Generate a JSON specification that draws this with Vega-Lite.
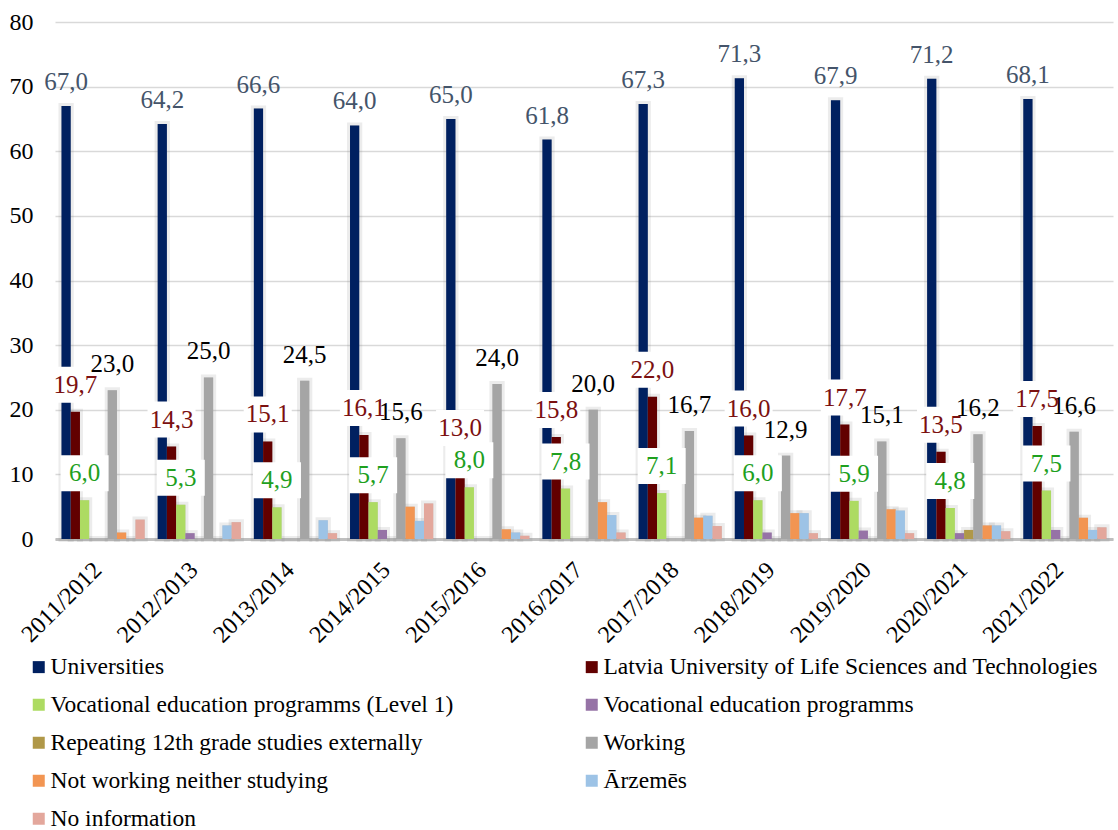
{
  "$schema": "https://vega.github.io/schema/vega-lite/v6.json",
  "width": 1058,
  "height": 517,
  "autosize": {"type": "none"},
  "padding": {"left": 55, "top": 22, "right": 5, "bottom": 291},
  "background": "white",
  "config": {
    "locale": {"number": {"decimal": ",", "thousands": " ", "grouping": [3], "currency": ["", ""]}},
    "view": {"stroke": null},
    "font": "Times New Roman, Liberation Serif, serif"
  },
  "data": {"values": [
    {"year": "2011/2012", "cat": "Universities", "value": 67.0},
    {"year": "2011/2012", "cat": "Latvia University of Life Sciences and Technologies", "value": 19.7},
    {"year": "2011/2012", "cat": "Vocational education programms (Level 1)", "value": 6.0},
    {"year": "2011/2012", "cat": "Vocational education programms", "value": 0},
    {"year": "2011/2012", "cat": "Repeating 12th grade studies externally", "value": 0},
    {"year": "2011/2012", "cat": "Working", "value": 23.0},
    {"year": "2011/2012", "cat": "Not working neither studying", "value": 1.0},
    {"year": "2011/2012", "cat": "Ārzemēs", "value": 0},
    {"year": "2011/2012", "cat": "No information", "value": 3.0},
    {"year": "2012/2013", "cat": "Universities", "value": 64.2},
    {"year": "2012/2013", "cat": "Latvia University of Life Sciences and Technologies", "value": 14.3},
    {"year": "2012/2013", "cat": "Vocational education programms (Level 1)", "value": 5.3},
    {"year": "2012/2013", "cat": "Vocational education programms", "value": 0.9},
    {"year": "2012/2013", "cat": "Repeating 12th grade studies externally", "value": 0},
    {"year": "2012/2013", "cat": "Working", "value": 25.0},
    {"year": "2012/2013", "cat": "Not working neither studying", "value": 0},
    {"year": "2012/2013", "cat": "Ārzemēs", "value": 2.1},
    {"year": "2012/2013", "cat": "No information", "value": 2.6},
    {"year": "2013/2014", "cat": "Universities", "value": 66.6},
    {"year": "2013/2014", "cat": "Latvia University of Life Sciences and Technologies", "value": 15.1},
    {"year": "2013/2014", "cat": "Vocational education programms (Level 1)", "value": 4.9},
    {"year": "2013/2014", "cat": "Vocational education programms", "value": 0},
    {"year": "2013/2014", "cat": "Repeating 12th grade studies externally", "value": 0},
    {"year": "2013/2014", "cat": "Working", "value": 24.5},
    {"year": "2013/2014", "cat": "Not working neither studying", "value": 0},
    {"year": "2013/2014", "cat": "Ārzemēs", "value": 2.9},
    {"year": "2013/2014", "cat": "No information", "value": 0.9},
    {"year": "2014/2015", "cat": "Universities", "value": 64.0},
    {"year": "2014/2015", "cat": "Latvia University of Life Sciences and Technologies", "value": 16.1},
    {"year": "2014/2015", "cat": "Vocational education programms (Level 1)", "value": 5.7},
    {"year": "2014/2015", "cat": "Vocational education programms", "value": 1.4},
    {"year": "2014/2015", "cat": "Repeating 12th grade studies externally", "value": 0},
    {"year": "2014/2015", "cat": "Working", "value": 15.6},
    {"year": "2014/2015", "cat": "Not working neither studying", "value": 5.0},
    {"year": "2014/2015", "cat": "Ārzemēs", "value": 2.8},
    {"year": "2014/2015", "cat": "No information", "value": 5.5},
    {"year": "2015/2016", "cat": "Universities", "value": 65.0},
    {"year": "2015/2016", "cat": "Latvia University of Life Sciences and Technologies", "value": 13.0},
    {"year": "2015/2016", "cat": "Vocational education programms (Level 1)", "value": 8.0},
    {"year": "2015/2016", "cat": "Vocational education programms", "value": 0},
    {"year": "2015/2016", "cat": "Repeating 12th grade studies externally", "value": 0},
    {"year": "2015/2016", "cat": "Working", "value": 24.0},
    {"year": "2015/2016", "cat": "Not working neither studying", "value": 1.5},
    {"year": "2015/2016", "cat": "Ārzemēs", "value": 1.0},
    {"year": "2015/2016", "cat": "No information", "value": 0.5},
    {"year": "2016/2017", "cat": "Universities", "value": 61.8},
    {"year": "2016/2017", "cat": "Latvia University of Life Sciences and Technologies", "value": 15.8},
    {"year": "2016/2017", "cat": "Vocational education programms (Level 1)", "value": 7.8},
    {"year": "2016/2017", "cat": "Vocational education programms", "value": 0},
    {"year": "2016/2017", "cat": "Repeating 12th grade studies externally", "value": 0},
    {"year": "2016/2017", "cat": "Working", "value": 20.0},
    {"year": "2016/2017", "cat": "Not working neither studying", "value": 5.7},
    {"year": "2016/2017", "cat": "Ārzemēs", "value": 3.7},
    {"year": "2016/2017", "cat": "No information", "value": 1.0},
    {"year": "2017/2018", "cat": "Universities", "value": 67.3},
    {"year": "2017/2018", "cat": "Latvia University of Life Sciences and Technologies", "value": 22.0},
    {"year": "2017/2018", "cat": "Vocational education programms (Level 1)", "value": 7.1},
    {"year": "2017/2018", "cat": "Vocational education programms", "value": 0},
    {"year": "2017/2018", "cat": "Repeating 12th grade studies externally", "value": 0},
    {"year": "2017/2018", "cat": "Working", "value": 16.7},
    {"year": "2017/2018", "cat": "Not working neither studying", "value": 3.3},
    {"year": "2017/2018", "cat": "Ārzemēs", "value": 3.6},
    {"year": "2017/2018", "cat": "No information", "value": 2.0},
    {"year": "2018/2019", "cat": "Universities", "value": 71.3},
    {"year": "2018/2019", "cat": "Latvia University of Life Sciences and Technologies", "value": 16.0},
    {"year": "2018/2019", "cat": "Vocational education programms (Level 1)", "value": 6.0},
    {"year": "2018/2019", "cat": "Vocational education programms", "value": 1.0},
    {"year": "2018/2019", "cat": "Repeating 12th grade studies externally", "value": 0},
    {"year": "2018/2019", "cat": "Working", "value": 12.9},
    {"year": "2018/2019", "cat": "Not working neither studying", "value": 4.0},
    {"year": "2018/2019", "cat": "Ārzemēs", "value": 4.0},
    {"year": "2018/2019", "cat": "No information", "value": 0.9},
    {"year": "2019/2020", "cat": "Universities", "value": 67.9},
    {"year": "2019/2020", "cat": "Latvia University of Life Sciences and Technologies", "value": 17.7},
    {"year": "2019/2020", "cat": "Vocational education programms (Level 1)", "value": 5.9},
    {"year": "2019/2020", "cat": "Vocational education programms", "value": 1.3},
    {"year": "2019/2020", "cat": "Repeating 12th grade studies externally", "value": 0},
    {"year": "2019/2020", "cat": "Working", "value": 15.1},
    {"year": "2019/2020", "cat": "Not working neither studying", "value": 4.6},
    {"year": "2019/2020", "cat": "Ārzemēs", "value": 4.4},
    {"year": "2019/2020", "cat": "No information", "value": 0.9},
    {"year": "2020/2021", "cat": "Universities", "value": 71.2},
    {"year": "2020/2021", "cat": "Latvia University of Life Sciences and Technologies", "value": 13.5},
    {"year": "2020/2021", "cat": "Vocational education programms (Level 1)", "value": 4.8},
    {"year": "2020/2021", "cat": "Vocational education programms", "value": 0.9},
    {"year": "2020/2021", "cat": "Repeating 12th grade studies externally", "value": 1.4},
    {"year": "2020/2021", "cat": "Working", "value": 16.2},
    {"year": "2020/2021", "cat": "Not working neither studying", "value": 2.1},
    {"year": "2020/2021", "cat": "Ārzemēs", "value": 2.1},
    {"year": "2020/2021", "cat": "No information", "value": 1.2},
    {"year": "2021/2022", "cat": "Universities", "value": 68.1},
    {"year": "2021/2022", "cat": "Latvia University of Life Sciences and Technologies", "value": 17.5},
    {"year": "2021/2022", "cat": "Vocational education programms (Level 1)", "value": 7.5},
    {"year": "2021/2022", "cat": "Vocational education programms", "value": 1.4},
    {"year": "2021/2022", "cat": "Repeating 12th grade studies externally", "value": 0},
    {"year": "2021/2022", "cat": "Working", "value": 16.6},
    {"year": "2021/2022", "cat": "Not working neither studying", "value": 3.3},
    {"year": "2021/2022", "cat": "Ārzemēs", "value": 1.4},
    {"year": "2021/2022", "cat": "No information", "value": 1.8}
  ]},
  "encoding": {
    "x": {
      "field": "year", "type": "nominal", "sort": null, "title": null,
      "scale": {"paddingInner": 0, "paddingOuter": 0},
      "axis": {"labelAngle": -45, "labelAlign": "right", "labelBaseline": "middle", "labelFontSize": 24, "labelFont": "Times New Roman, Liberation Serif, serif", "labelColor": "black", "ticks": false, "domainColor": "#BFBFBF", "domainWidth": 3, "labelPadding": 27, "labelOffset": -5}
    },
    "xOffset": {
      "field": "cat", "type": "nominal", "sort": null,
      "scale": {"domain": ["Universities", "Latvia University of Life Sciences and Technologies", "Vocational education programms (Level 1)", "Vocational education programms", "Repeating 12th grade studies externally", "Working", "Not working neither studying", "Ārzemēs", "No information"], "paddingInner": 0, "paddingOuter": 0.7}
    },
    "y": {
      "field": "value", "type": "quantitative", "title": null,
      "scale": {"domain": [0, 80]},
      "axis": {"values": [0, 10, 20, 30, 40, 50, 60, 70, 80], "domain": false, "ticks": false, "gridColor": "#D9D9D9", "gridWidth": 1.5, "labelFontSize": 24, "labelFont": "Times New Roman, Liberation Serif, serif", "labelColor": "black", "labelPadding": 22}
    }
  },
  "layer": [
    {
      "mark": {"type": "bar", "color": "#808080", "fillOpacity": 0.3, "stroke": "#808080", "strokeWidth": 6, "strokeOpacity": 0.15},
      "encoding": {}
    },
    {
      "mark": {"type": "bar"},
      "encoding": {
        "color": {
          "field": "cat", "type": "nominal", "title": null,
          "scale": {
            "domain": ["Universities", "Latvia University of Life Sciences and Technologies", "Vocational education programms (Level 1)", "Vocational education programms", "Repeating 12th grade studies externally", "Working", "Not working neither studying", "Ārzemēs", "No information"],
            "range": ["#002060", "#620000", "#ADDB62", "#9673A6", "#B09848", "#A5A5A5", "#F29552", "#9DC3E6", "#E3A79C"]
          },
          "legend": {"orient": "none", "direction": "horizontal", "legendX": -28, "legendY": 633, "columns": 2, "columnPadding": 126, "rowPadding": 13, "symbolType": "square", "symbolSize": 144, "symbolStrokeWidth": 0, "labelFontSize": 23.5, "labelFont": "Times New Roman, Liberation Serif, serif", "labelColor": "black", "labelLimit": 700, "labelOffset": 0, "padding": 0}
        }
      }
    },
    {
      "transform": [{"filter": {"field": "cat", "oneOf": ["Latvia University of Life Sciences and Technologies", "Vocational education programms (Level 1)"]}}],
      "mark": {"type": "point", "shape": "M-0.96,-1.8L0.96,-1.8L0.96,-0.36L-0.96,-0.36Z", "size": 2500, "filled": true, "color": "white", "opacity": 1, "strokeWidth": 0}
    },
    {
      "transform": [{"filter": {"field": "cat", "equal": "Universities"}}],
      "mark": {"type": "text", "baseline": "middle", "dy": -24, "fontSize": 25, "color": "#44546A"},
      "encoding": {"text": {"field": "value", "type": "quantitative", "format": ".1f"}}
    },
    {
      "transform": [{"filter": {"field": "cat", "equal": "Working"}}],
      "mark": {"type": "text", "baseline": "middle", "dy": -26, "fontSize": 25, "color": "black"},
      "encoding": {"text": {"field": "value", "type": "quantitative", "format": ".1f"}}
    },
    {
      "transform": [{"filter": {"field": "cat", "equal": "Latvia University of Life Sciences and Technologies"}}],
      "mark": {"type": "text", "baseline": "middle", "dy": -27, "fontSize": 25, "color": "#7B1010"},
      "encoding": {"text": {"field": "value", "type": "quantitative", "format": ".1f"}}
    },
    {
      "transform": [{"filter": {"field": "cat", "equal": "Vocational education programms (Level 1)"}}],
      "mark": {"type": "text", "baseline": "middle", "dy": -27, "fontSize": 25, "color": "#1EA01E"},
      "encoding": {"text": {"field": "value", "type": "quantitative", "format": ".1f"}}
    }
  ]
}
